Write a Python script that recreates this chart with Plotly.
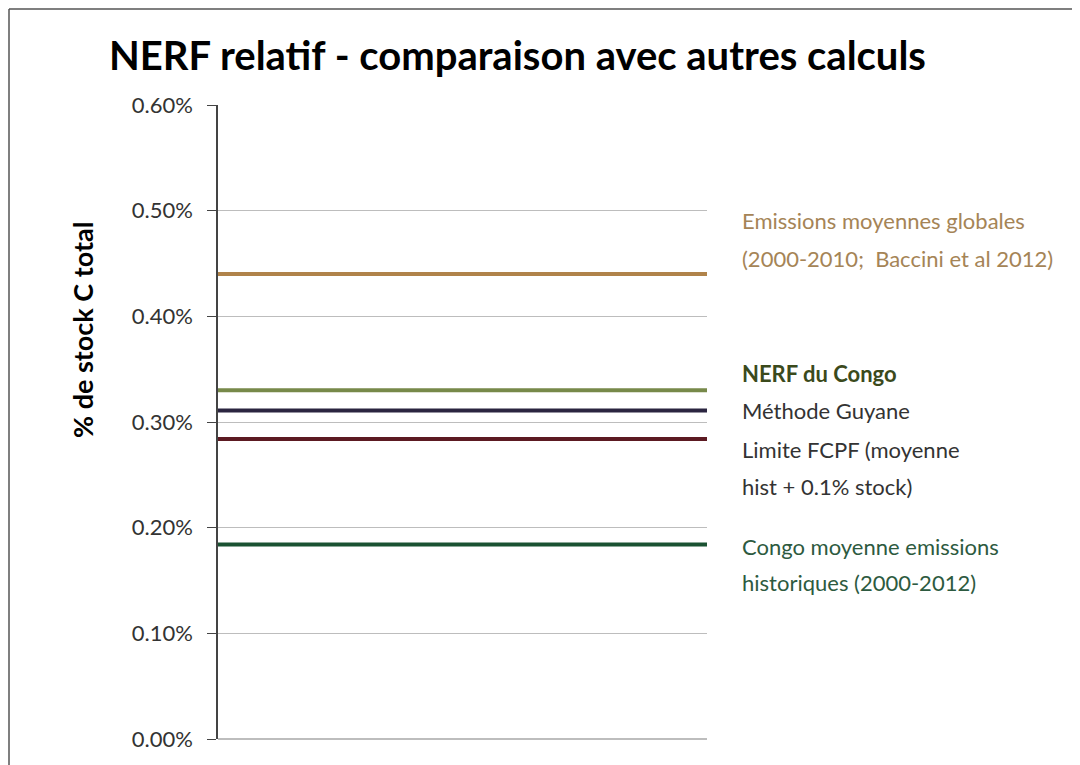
import plotly.graph_objects as go

# Data (fraction of total C stock)
series_names = [
    "Emissions moyennes globales (2000-2010; Baccini et al 2012)",
    "NERF du Congo",
    "Méthode Guyane",
    "Limite FCPF (moyenne hist + 0.1% stock)",
    "Congo moyenne emissions historiques (2000-2012)",
]
series_values = [0.0044, 0.0033, 0.00311, 0.00284, 0.00184]
series_colors = ["#b0834a", "#77894a", "#2b2540", "#5c1a22", "#1b5232"]
x_span = [0, 1]
tick_vals = [0.0, 0.001, 0.002, 0.003, 0.004, 0.005, 0.006]
tick_text = ["0.00%", "0.10%", "0.20%", "0.30%", "0.40%", "0.50%", "0.60%"]

W, H = 1080, 765
OFF = 8  # page body margin offset
L, R, T, B = 218 - OFF, 707 - OFF, 105 - OFF, 739 - OFF

fig = go.Figure()
for name, v, c in zip(series_names, series_values, series_colors):
    fig.add_trace(go.Scatter(x=x_span, y=[v, v], mode="lines", name=name,
                             line=dict(color=c, width=4), showlegend=False))

def px(xp):
    return (xp - OFF - L) / (R - L)

def py(yp):
    return (B - (yp - OFF)) / (B - T)

FONT = "Lato, Open Sans, sans-serif"
labels = [
    ("Emissions moyennes globales", 220, "#a58456", False),
    ("(2000-2010;  Baccini et al 2012)", 258, "#a58456", False),
    ("NERF du Congo", 373, "#3b4a1c", True),
    ("Méthode Guyane", 410, "#333333", False),
    ("Limite FCPF (moyenne", 450, "#333333", False),
    ("hist + 0.1% stock)", 486, "#333333", False),
    ("Congo moyenne emissions", 546, "#2d5a40", False),
    ("historiques (2000-2012)", 582, "#2d5a40", False),
]
annotations = []
for txt, yp, col, bold in labels:
    annotations.append(dict(
        text=f"<b>{txt}</b>" if bold else txt, xref="paper", yref="paper",
        x=px(740), y=py(yp), xanchor="left", yanchor="middle", showarrow=False,
        font=dict(family=FONT, size=22, color=col)))

annotations.append(dict(
    text="<b>NERF relatif - comparaison avec autres calculs</b>", xref="paper", yref="paper",
    x=px(517), y=py(55), xanchor="center", yanchor="middle", showarrow=False,
    font=dict(family=FONT, size=40, color="#000000")))
annotations.append(dict(
    text="<b>% de stock C total</b>", xref="paper", yref="paper",
    x=px(82), y=py(330), xanchor="center", yanchor="middle", showarrow=False, textangle=-90,
    font=dict(family=FONT, size=27, color="#000000")))

shapes = [
    dict(type="line", xref="paper", yref="paper", x0=px(9), x1=px(1090), y0=py(9), y1=py(9),
         line=dict(color="#555555", width=1.5)),
    dict(type="line", xref="paper", yref="paper", x0=px(9), x1=px(9), y0=py(9), y1=py(780),
         line=dict(color="#555555", width=1.5)),
]

fig.update_layout(
    width=W, height=H,
    margin=dict(l=L, r=W - R, t=T, b=H - B),
    paper_bgcolor="white", plot_bgcolor="white",
    annotations=annotations, shapes=shapes,
    xaxis=dict(range=[0, 1], showgrid=False, zeroline=False, showticklabels=False,
               showline=False, ticks=""),
    yaxis=dict(range=[0, 0.006], tickvals=tick_vals, ticktext=tick_text,
               showgrid=True, gridcolor="#bdbdbd", gridwidth=1,
               zeroline=True, zerolinecolor="#bdbdbd", zerolinewidth=1.5,
               showline=True, linecolor="#444444", linewidth=1.5,
               ticks="outside", ticklen=9, tickcolor="#444444", ticklabelstandoff=10,
               tickfont=dict(family=FONT, size=22, color="#333333")),
)

fig.write_html("out.html")
